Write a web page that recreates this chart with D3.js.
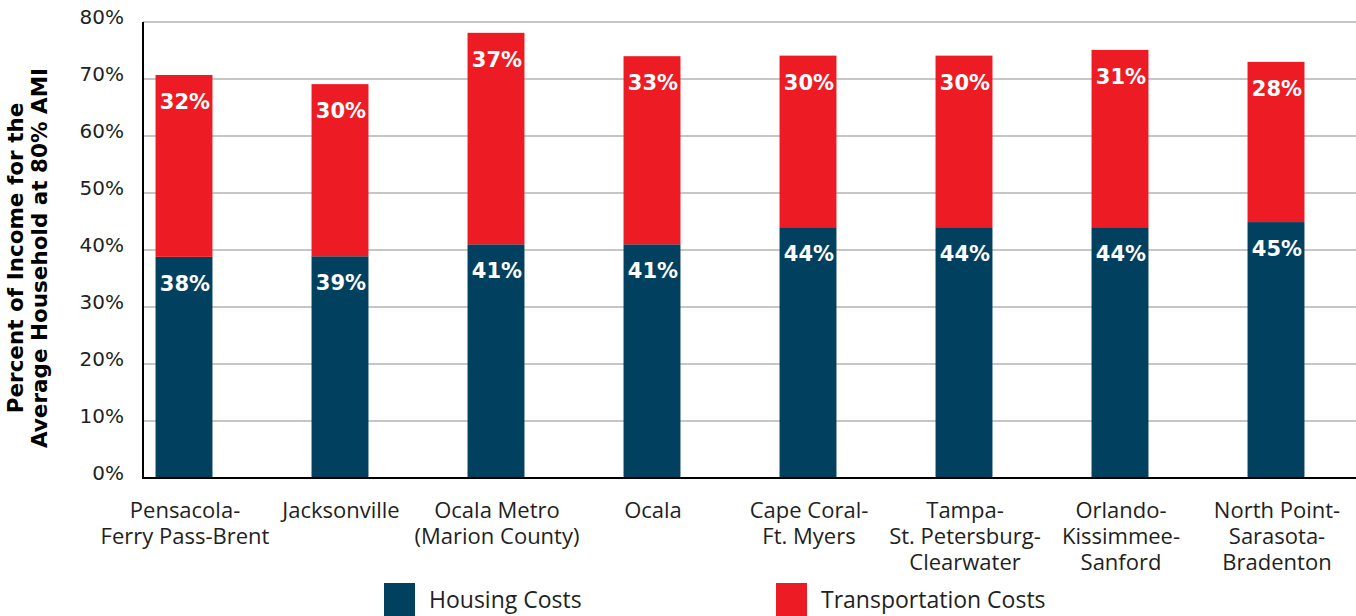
<!DOCTYPE html>
<html>
<head>
<meta charset="utf-8">
<script src="https://cdn.jsdelivr.net/npm/d3@7"></script>
<style>
	body { margin: 0; background: #fff; }
	svg { display: block; }
	.tick text { font-family: "DejaVu Sans", sans-serif; }
</style>
</head>
<body>
<div id="chart"></div>
<script>
// metro areas, first and second line of each label
var categories = [
	["Pensacola-", "Ferry Pass-Brent"],
	["Jacksonville"],
	["Ocala Metro", "(Marion County)"],
	["Ocala"],
	["Cape Coral-", "Ft. Myers"],
	["Tampa-", "St. Petersburg-", "Clearwater"],
	["Orlando-", "Kissimmee-", "Sanford"],
	["North Point-", "Sarasota-", "Bradenton"]
]
// bar heights as drawn (percent of income)
var housing = [38.8, 38.9, 41, 41, 44, 44, 44, 44.9]
var transport = [31.9, 30.2, 37.1, 33, 30.1, 30.1, 31.1, 28.1]
// printed labels
var housingLabels = ["38%", "39%", "41%", "41%", "44%", "44%", "44%", "45%"]
var transportLabels = ["32%", "30%", "37%", "33%", "30%", "30%", "31%", "28%"]
var yTicks = [0, 10, 20, 30, 40, 50, 60, 70, 80]
var seriesNames = ["Housing Costs", "Transportation Costs"]

var colors = { housing: "#024060", transport: "#ED1C24" }
var width = 1356, height = 616

var svg = d3.select("#chart").append("svg")
	.attr("width", width)
	.attr("height", height)

var x = d3.scaleBand()
	.domain(d3.range(categories.length))
	.range([106, 1354])
	.paddingInner(0.635)
	.paddingOuter(0.3175)

var y = d3.scaleLinear()
	.domain([0, 80])
	.range([478, 22])

// gridlines
svg.append("g")
	.selectAll("line")
	.data(yTicks)
	.enter().append("line")
	.attr("x1", 143)
	.attr("x2", width)
	.attr("y1", function(d) { return y(d) })
	.attr("y2", function(d) { return y(d) })
	.attr("stroke", "#b3b3b3")
	.attr("stroke-width", 1.6)

// y axis labels
var yAxis = d3.axisLeft(y)
	.tickValues(yTicks)
	.tickFormat(function(d) { return d + "%" })
	.tickSize(0)
	.tickPadding(19)
var gy = svg.append("g")
	.attr("transform", "translate(143,0)")
	.call(yAxis)
gy.select(".domain").remove()
gy.selectAll(".tick text")
	.attr("font-size", 20)
	.attr("fill", "#231f20")
	.attr("dy", "0.05em")

// stacked bars
var bars = svg.append("g")
bars.selectAll(".housing")
	.data(housing)
	.enter().append("rect")
	.attr("class", "housing")
	.attr("x", function(d, i) { return x(i) })
	.attr("width", x.bandwidth())
	.attr("y", function(d) { return y(d) })
	.attr("height", function(d) { return y(0) - y(d) })
	.attr("fill", colors.housing)

bars.selectAll(".transport")
	.data(transport)
	.enter().append("rect")
	.attr("class", "transport")
	.attr("x", function(d, i) { return x(i) })
	.attr("width", x.bandwidth())
	.attr("y", function(d, i) { return y(housing[i] + d) })
	.attr("height", function(d, i) { return y(housing[i]) - y(housing[i] + d) })
	.attr("fill", colors.transport)

// value labels
var labelFont = "'DejaVu Sans', sans-serif"
bars.selectAll(".hlabel")
	.data(housingLabels)
	.enter().append("text")
	.attr("x", function(d, i) { return x(i) + x.bandwidth() / 2 + 1 })
	.attr("y", function(d, i) { return y(housing[i]) + 34 })
	.attr("text-anchor", "middle")
	.attr("font-family", labelFont)
	.attr("font-weight", "bold")
	.attr("font-size", 21)
	.attr("fill", "#fff")
	.text(function(d) { return d })

bars.selectAll(".tlabel")
	.data(transportLabels)
	.enter().append("text")
	.attr("x", function(d, i) { return x(i) + x.bandwidth() / 2 + 1 })
	.attr("y", function(d, i) { return y(housing[i] + transport[i]) + 34 })
	.attr("text-anchor", "middle")
	.attr("font-family", labelFont)
	.attr("font-weight", "bold")
	.attr("font-size", 21)
	.attr("fill", "#fff")
	.text(function(d) { return d })

// axis lines
svg.append("line")
	.attr("x1", 143).attr("x2", 143)
	.attr("y1", y(80)).attr("y2", y(0) + 1)
	.attr("stroke", "#000").attr("stroke-width", 2)
svg.append("line")
	.attr("x1", 142).attr("x2", width)
	.attr("y1", y(0)).attr("y2", y(0))
	.attr("stroke", "#000").attr("stroke-width", 2)

// category labels
var catFont = "'Open Sans', sans-serif"
var cats = svg.append("g")
	.selectAll("text")
	.data(categories)
	.enter().append("text")
	.attr("text-anchor", "middle")
	.attr("font-family", catFont)
	.attr("font-size", 22)
	.attr("fill", "#231f20")
	.attr("transform", function(d, i) { return "translate(" + (x(i) + x.bandwidth() / 2 + 1) + ",518)" })
cats.selectAll("tspan")
	.data(function(d) { return d })
	.enter().append("tspan")
	.attr("x", 0)
	.attr("y", function(d, j) { return j * 26 })
	.text(function(d) { return d })

// y axis title
svg.append("text")
	.attr("transform", "translate(23,258) rotate(-90)")
	.attr("text-anchor", "middle")
	.attr("font-family", labelFont)
	.attr("font-weight", "bold")
	.attr("font-size", 21.5)
	.attr("fill", "#000")
	.selectAll("tspan")
	.data(["Percent of Income for the", "Average Household at 80% AMI"])
	.enter().append("tspan")
	.attr("x", 0)
	.attr("y", function(d, j) { return j * 24 })
	.text(function(d) { return d })

// legend
var legendX = [384, 776]
var lg = svg.append("g")
	.selectAll("g")
	.data(seriesNames)
	.enter().append("g")
	.attr("transform", function(d, i) { return "translate(" + legendX[i] + ",583)" })
lg.append("rect")
	.attr("width", 31)
	.attr("height", 33)
	.attr("fill", function(d, i) { return i == 0 ? colors.housing : colors.transport })
lg.append("text")
	.attr("x", 45)
	.attr("y", 25)
	.attr("font-family", catFont)
	.attr("font-size", 23)
	.attr("fill", "#231f20")
	.text(function(d) { return d })
</script>
</body>
</html>
